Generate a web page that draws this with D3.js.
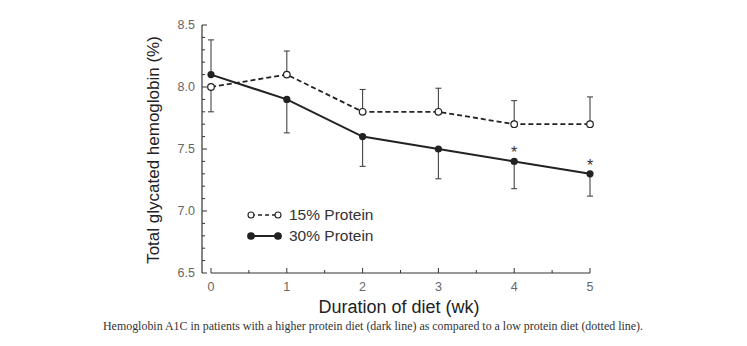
<!DOCTYPE html>
<html><head><meta charset="utf-8">
<script src="https://cdn.jsdelivr.net/npm/d3@7"></script>
<style>body{margin:0;background:#fff}svg{display:block}</style>
</head><body>
<script>
const weeks = [0, 1, 2, 3, 4, 5];
const protein15 = [8.0, 8.1, 7.8, 7.8, 7.7, 7.7];
const protein15Err = [7.8, 8.29, 7.98, 7.99, 7.89, 7.92];   // error bar ends
const protein30 = [8.1, 7.9, 7.6, 7.5, 7.4, 7.3];
const protein30Err = [8.38, 7.63, 7.36, 7.26, 7.18, 7.12];  // error bar ends
const significant = [false, false, false, false, true, true];
const yTicks = [6.5, 7.0, 7.5, 8.0, 8.5];
const legendLabels = ["15% Protein", "30% Protein"];

const W = 747, H = 346;
const svg = d3.select("body").append("svg").attr("width", W).attr("height", H);
const x = d3.scaleLinear().domain([0, 5]).range([211, 590]);
const y = d3.scaleLinear().domain([6.5, 8.5]).range([273, 25]);
const ink = "#222";
const sans = "Liberation Sans, Arial, sans-serif";

// Y axis
const yAxisG = svg.append("g").attr("transform", "translate(202,0)");
yAxisG.append("line").attr("y1", y(8.5)).attr("y2", y(6.5)).attr("stroke", "#333").attr("stroke-width", 1.2);
const minor = d3.range(65, 86).map(d => d / 10);
yAxisG.selectAll(".mt").data(minor).join("line")
  .attr("x1", 0).attr("x2", d => yTicks.some(t => Math.abs(t - d) < 1e-6) ? 5 : 3)
  .attr("y1", d => y(d)).attr("y2", d => y(d)).attr("stroke", "#333").attr("stroke-width", 1);
yAxisG.selectAll(".yl").data(yTicks).join("text")
  .attr("x", -7).attr("y", d => y(d)).attr("dy", "0.35em").attr("text-anchor", "end")
  .attr("font-family", sans).attr("font-size", 12.5).attr("fill", "#666")
  .text(d => d.toFixed(1));

// X axis
const xAxisG = svg.append("g").attr("transform", "translate(0,273)");
xAxisG.append("line").attr("x1", x(0)).attr("x2", x(5)).attr("stroke", "#333").attr("stroke-width", 1.2);
const xMinor = d3.range(0, 11).map(d => d / 2);
xAxisG.selectAll(".xt").data(xMinor).join("line")
  .attr("x1", d => x(d)).attr("x2", d => x(d)).attr("y1", 0)
  .attr("y2", d => Number.isInteger(d) ? -5 : -3).attr("stroke", "#333").attr("stroke-width", 1);
xAxisG.selectAll(".xl").data(weeks).join("text")
  .attr("x", d => x(d)).attr("y", 18).attr("text-anchor", "middle")
  .attr("font-family", sans).attr("font-size", 12.5).attr("fill", "#666")
  .text(d => d);

// Axis titles
svg.append("text").attr("x", 399).attr("y", 313).attr("text-anchor", "middle")
  .attr("font-family", sans).attr("font-size", 18).attr("fill", "#222")
  .text("Duration of diet (wk)");
svg.append("text").attr("transform", "translate(159,150) rotate(-90)").attr("text-anchor", "middle")
  .attr("font-family", sans).attr("font-size", 17).attr("fill", "#222")
  .text("Total glycated hemoglobin (%)");

// Error bars
function errBars(vals, ends) {
  const g = svg.append("g");
  weeks.forEach((w, i) => {
    g.append("line").attr("x1", x(w)).attr("x2", x(w)).attr("y1", y(vals[i])).attr("y2", y(ends[i]))
      .attr("stroke", "#444").attr("stroke-width", 1.1);
    g.append("line").attr("x1", x(w) - 3).attr("x2", x(w) + 3).attr("y1", y(ends[i])).attr("y2", y(ends[i]))
      .attr("stroke", "#444").attr("stroke-width", 1.1);
  });
}
errBars(protein15, protein15Err);
errBars(protein30, protein30Err);

const line = d3.line().x((d, i) => x(weeks[i])).y(d => y(d));
svg.append("path").datum(protein15).attr("d", line).attr("fill", "none")
  .attr("stroke", ink).attr("stroke-width", 1.8).attr("stroke-dasharray", "5,3");
svg.append("path").datum(protein30).attr("d", line).attr("fill", "none")
  .attr("stroke", ink).attr("stroke-width", 2);

svg.selectAll(".p15").data(protein15).join("circle")
  .attr("cx", (d, i) => x(weeks[i])).attr("cy", d => y(d)).attr("r", 3.3)
  .attr("fill", "#fff").attr("stroke", ink).attr("stroke-width", 1.2);
svg.selectAll(".p30").data(protein30).join("circle")
  .attr("cx", (d, i) => x(weeks[i])).attr("cy", d => y(d)).attr("r", 3.6)
  .attr("fill", ink);

// Asterisks
svg.selectAll(".ast").data(protein30.map((v, i) => ({v, i})).filter(d => significant[d.i])).join("text")
  .attr("x", d => x(weeks[d.i])).attr("y", d => y(d.v) - 3).attr("text-anchor", "middle")
  .attr("font-family", sans).attr("font-size", 16).attr("fill", "#333")
  .text("*");

// Legend
const lg = svg.append("g");
[0, 1].forEach(k => {
  const ly = 215 + k * 21;
  lg.append("line").attr("x1", 251).attr("x2", 278).attr("y1", ly).attr("y2", ly)
    .attr("stroke", ink).attr("stroke-width", k ? 2 : 1.6).attr("stroke-dasharray", k ? null : "4,3");
  [251, 278].forEach(cx => {
    lg.append("circle").attr("cx", cx).attr("cy", ly).attr("r", k ? 3.3 : 3)
      .attr("fill", k ? ink : "#fff").attr("stroke", ink).attr("stroke-width", 1.1);
  });
  lg.append("text").attr("x", 289).attr("y", ly).attr("dy", "0.35em")
    .attr("font-family", sans).attr("font-size", 15.5).attr("fill", "#333")
    .text(legendLabels[k]);
});

// Caption
svg.append("text").attr("x", 373).attr("y", 330).attr("text-anchor", "middle")
  .attr("font-family", "Liberation Serif, Times New Roman, serif").attr("font-size", 12).attr("fill", "#333")
  .attr("textLength", 540).attr("lengthAdjust", "spacingAndGlyphs")
  .text("Hemoglobin A1C in patients with a higher protein diet (dark line) as compared to a low protein diet (dotted line).");
</script>
</body></html>
